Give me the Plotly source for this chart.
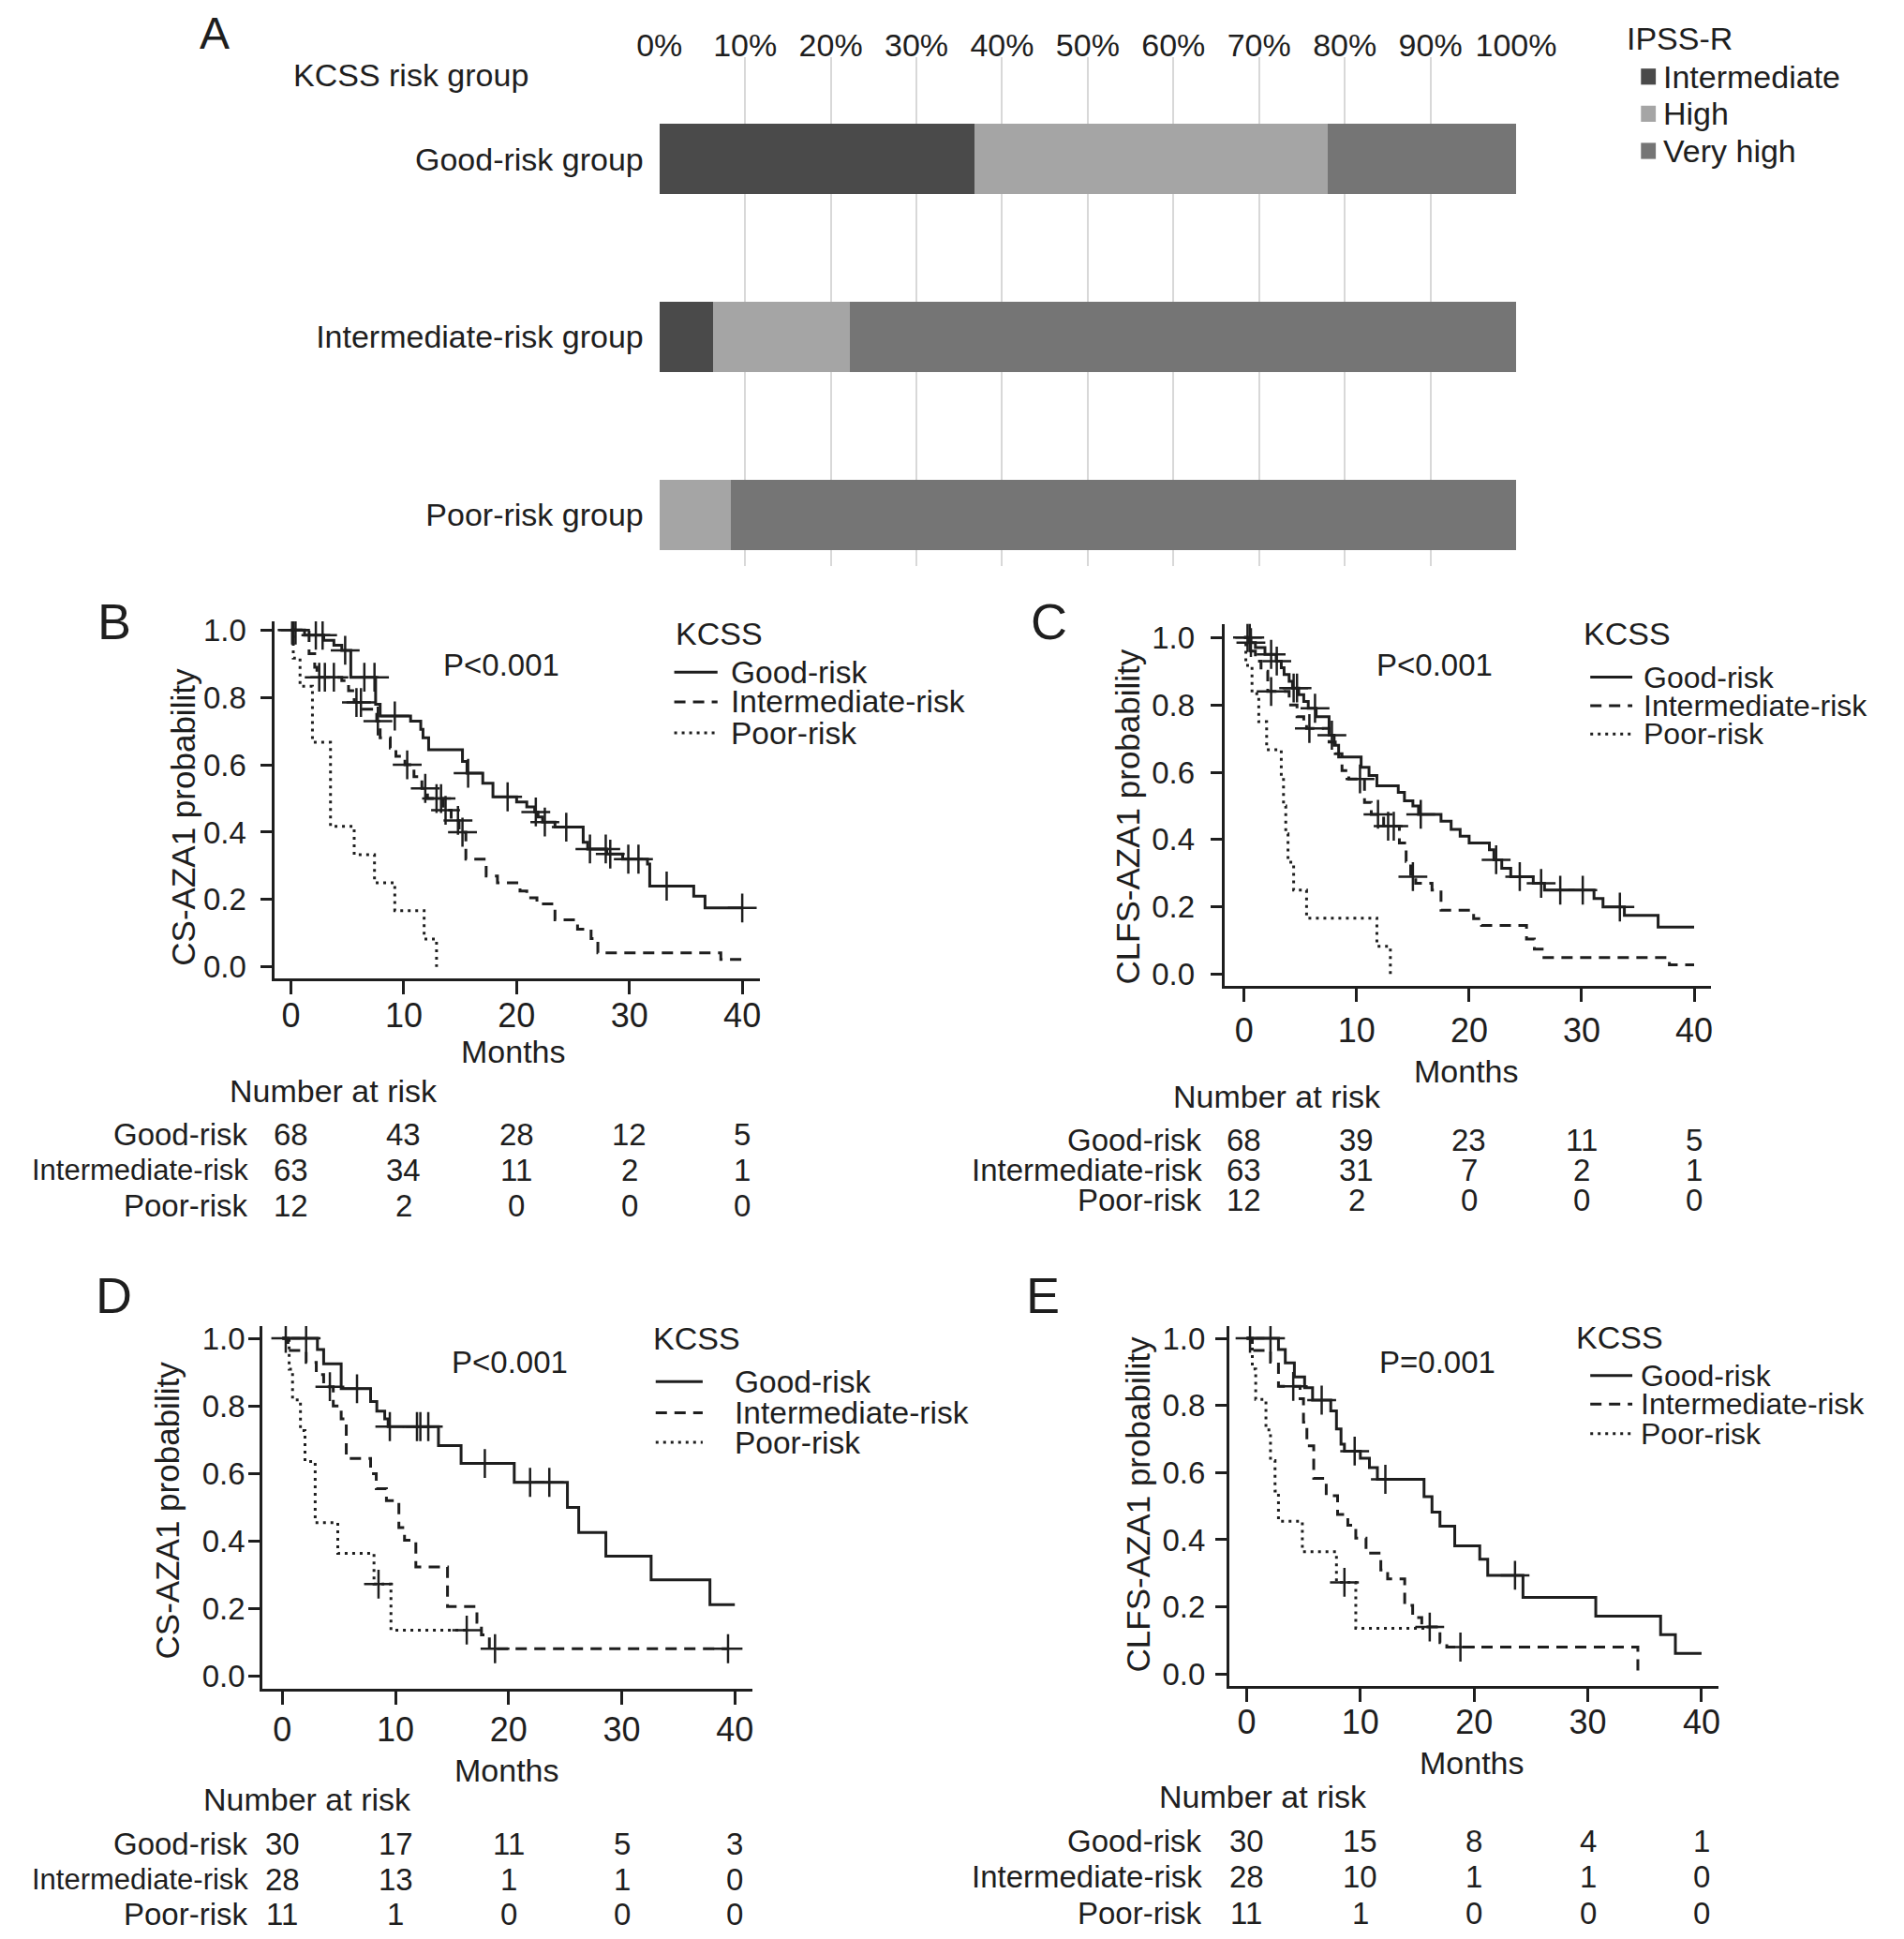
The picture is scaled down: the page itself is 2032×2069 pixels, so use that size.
import plotly.graph_objects as go

W, H = 2032, 2069
INK = "#1e1e1e"
FONT = "Liberation Sans, Arial, sans-serif"

# ---------------- panel A: IPSS-R share per KCSS group (%)
kcss_groups = ["Good-risk group", "Intermediate-risk group", "Poor-risk group"]
ipss_labels = ["Intermediate", "High", "Very high"]
ipss_intermediate = [36.8, 6.3, 0.0]
ipss_high = [41.2, 15.9, 8.3]
ipss_very_high = [22.0, 77.8, 91.7]
ipss_colors = ["#4a4a4a", "#a5a5a5", "#757575"]
pct_ticks = [0, 10, 20, 30, 40, 50, 60, 70, 80, 90, 100]

# ---------------- KM curves (step times / survival), censor times
risk_groups = ["Good-risk", "Intermediate-risk", "Poor-risk"]
month_ticks = [0, 10, 20, 30, 40]

# B: CS-AZA1, all patients
b_good_t = [0, 1.2, 2.9, 3.8, 4.5, 5.3, 7.5, 7.9, 10.6, 11.5, 11.7, 12.2, 15.2, 15.6, 17.0, 17.9, 20.0, 20.9,
            21.6, 21.9, 22.3, 23.4, 25.9, 26.3, 28.0, 29.4, 31.6, 31.8, 35.7, 36.7, 40.0]
b_good_s = [1.0, 0.985, 0.97, 0.955, 0.94, 0.86, 0.78, 0.745, 0.73, 0.705, 0.68, 0.645, 0.61, 0.575, 0.545, 0.505,
            0.49, 0.475, 0.46, 0.445, 0.43, 0.415, 0.37, 0.35, 0.335, 0.32, 0.305, 0.24, 0.21, 0.175, 0.175]
b_good_c = [0.1, 0.4, 2.2, 2.8, 4.8, 6.5, 7.4, 9.2, 15.7, 19.2, 21.7, 22.5, 24.4, 26.5, 27.9, 28.3, 29.9, 30.8,
            33.3, 40.0]
b_int_t = [0, 1.6, 2.1, 2.3, 4.5, 5.1, 5.6, 6.4, 7.6, 7.9, 8.8, 9.3, 10.1, 10.9, 11.6, 12.1, 13.5, 14.2, 14.9,
           15.5, 17.3, 18.3, 20.3, 20.9, 21.8, 23.4, 25.4, 26.6, 27.2, 38.1, 40.0]
b_int_s = [1.0, 0.93, 0.89, 0.86, 0.85, 0.82, 0.785, 0.765, 0.73, 0.68, 0.65, 0.625, 0.60, 0.565, 0.53, 0.50,
           0.465, 0.435, 0.40, 0.32, 0.27, 0.25, 0.225, 0.205, 0.187, 0.14, 0.112, 0.084, 0.042, 0.022, 0.022]
b_int_c = [0.2, 2.5, 3.0, 3.8, 5.8, 6.2, 7.7, 10.3, 11.9, 12.9, 13.3, 13.7, 14.8, 15.2]
b_poor_t = [0, 0.2, 0.8, 1.9, 3.5, 5.6, 7.4, 9.2, 11.8, 12.9]
b_poor_s = [1.0, 0.917, 0.833, 0.667, 0.417, 0.333, 0.25, 0.167, 0.083, 0.0]
b_poor_c = []

# C: CLFS-AZA1, all patients
c_good_t = [0, 0.4, 1.0, 1.85, 2.85, 3.3, 3.55, 4.0, 4.3, 4.85, 5.3, 5.7, 6.4, 7.55, 8.0, 8.4, 10.4, 11.1, 11.8,
            13.7, 14.25, 15.0, 15.5, 17.5, 18.4, 19.2, 20.0, 21.8, 22.2, 22.9, 23.7, 25.7, 26.7, 31.1, 31.9, 33.8,
            36.8, 40.0]
c_good_s = [1.0, 0.985, 0.97, 0.95, 0.93, 0.91, 0.89, 0.87, 0.85, 0.83, 0.81, 0.79, 0.765, 0.71, 0.68, 0.645,
            0.615, 0.59, 0.56, 0.54, 0.515, 0.50, 0.475, 0.455, 0.43, 0.41, 0.39, 0.37, 0.34, 0.315, 0.29, 0.27,
            0.25, 0.225, 0.20, 0.175, 0.14, 0.14]
c_good_c = [0.3, 0.6, 2.4, 2.9, 4.4, 4.7, 6.3, 7.8, 15.7, 22.4, 24.5, 26.4, 28.1, 30.1, 33.4]
c_int_t = [0, 0.6, 1.0, 1.5, 2.1, 4.0, 4.7, 5.3, 5.55, 7.55, 8.1, 8.7, 9.3, 10.7, 11.3, 12.4, 13.8, 14.4, 14.8,
           15.25, 16.7, 17.5, 20.4, 21.1, 25.1, 25.8, 26.65, 37.8, 40.0]
c_int_s = [1.0, 0.96, 0.93, 0.90, 0.84, 0.80, 0.765, 0.745, 0.73, 0.69, 0.655, 0.605, 0.58, 0.51, 0.475, 0.44,
           0.39, 0.335, 0.29, 0.27, 0.25, 0.19, 0.165, 0.145, 0.105, 0.075, 0.05, 0.028, 0.028]
c_int_c = [0.5, 2.4, 5.8, 10.3, 11.9, 12.8, 13.3, 15.0]
c_poor_t = [0, 0.15, 0.7, 1.3, 2.0, 3.3, 3.5, 3.7, 3.9, 4.4, 5.55, 11.8, 13.0]
c_poor_s = [1.0, 0.917, 0.833, 0.75, 0.667, 0.583, 0.5, 0.417, 0.333, 0.25, 0.167, 0.083, 0.0]
c_poor_c = []

# D: CS-AZA1, subgroup
d_good_t = [0, 3.1, 3.65, 5.2, 7.8, 8.35, 9.05, 9.35, 13.8, 15.8, 20.5, 25.2, 26.2, 28.6, 32.6, 37.8, 40.0]
d_good_s = [1.0, 0.967, 0.925, 0.851, 0.813, 0.785, 0.762, 0.739, 0.683, 0.63, 0.574, 0.50, 0.426, 0.356, 0.286,
            0.212, 0.212]
d_good_c = [0.3, 2.1, 6.6, 9.5, 11.9, 12.2, 12.9, 17.9, 21.9, 23.6]
d_int_t = [0, 0.5, 2.1, 3.0, 3.65, 4.5, 5.2, 5.65, 7.8, 8.3, 9.2, 10.3, 10.8, 11.8, 14.6, 17.2, 17.6, 18.3, 39.4]
d_int_s = [1.0, 0.964, 0.929, 0.893, 0.857, 0.80, 0.762, 0.645, 0.60, 0.555, 0.52, 0.44, 0.403, 0.324, 0.207,
           0.16, 0.123, 0.082, 0.082]
d_int_c = [4.2, 18.8, 39.4]
d_poor_t = [0, 0.6, 0.9, 1.6, 2.0, 2.9, 4.9, 8.1, 9.6, 16.5]
d_poor_s = [1.0, 0.909, 0.818, 0.727, 0.636, 0.455, 0.364, 0.273, 0.137, 0.137]
d_poor_c = [8.5, 16.3]

# E: CLFS-AZA1, subgroup
e_good_t = [0, 2.8, 3.4, 4.2, 5.1, 5.8, 7.4, 7.9, 8.3, 8.6, 10.0, 10.8, 11.5, 15.6, 16.3, 17.0, 18.3, 20.5, 21.2,
            24.3, 30.7, 36.4, 37.7, 40.0]
e_good_s = [1.0, 0.967, 0.927, 0.885, 0.853, 0.816, 0.784, 0.73, 0.685, 0.664, 0.643, 0.615, 0.58, 0.528, 0.482,
            0.44, 0.382, 0.342, 0.294, 0.228, 0.172, 0.117, 0.061, 0.061]
e_good_c = [0.3, 2.1, 6.6, 9.5, 12.2, 23.6]
e_int_t = [0, 0.5, 2.1, 2.8, 4.7, 5.0, 5.3, 5.9, 7.0, 8.0, 8.9, 9.6, 10.5, 11.8, 12.4, 13.9, 14.6, 15.4, 17.0,
           17.6, 34.4]
e_int_s = [1.0, 0.964, 0.929, 0.857, 0.82, 0.75, 0.68, 0.583, 0.531, 0.475, 0.443, 0.405, 0.36, 0.31, 0.283,
           0.204, 0.168, 0.14, 0.093, 0.08, 0.0]
e_int_c = [4.1, 16.1, 18.8]
e_poor_t = [0, 0.5, 0.8, 1.7, 2.1, 2.5, 2.8, 4.9, 7.9, 9.6, 16.1]
e_poor_s = [1.0, 0.909, 0.818, 0.727, 0.636, 0.545, 0.455, 0.364, 0.273, 0.136, 0.136]
e_poor_c = [8.6]

# number at risk at 0/10/20/30/40 months
b_risk = [[68, 43, 28, 12, 5], [63, 34, 11, 2, 1], [12, 2, 0, 0, 0]]
c_risk = [[68, 39, 23, 11, 5], [63, 31, 7, 2, 1], [12, 2, 0, 0, 0]]
d_risk = [[30, 17, 11, 5, 3], [28, 13, 1, 1, 0], [11, 1, 0, 0, 0]]
e_risk = [[30, 15, 8, 4, 1], [28, 10, 1, 1, 0], [11, 1, 0, 0, 0]]


# placement is measured on the reference at a 1536-wide view; map it to page pixels
def fx(d):
    return (d - 24.6) / 0.7326


def fy(d):
    return (d - 13.0) / 0.751


def px(d):
    return fx(d) / W


def py(d):
    return 1 - fy(d) / H


def surv_at(ts, ss, x):
    val = ss[0]
    for t, s in zip(ts, ss):
        if t <= x:
            val = s
    return val


DASHES = ["solid", "12px,8px", "3px,5px"]

panels = [
    dict(key="B", xa="x2", ya="y2", ytitle="CS-AZA1 probability", p="P<0.001",
         curves=[(b_good_t, b_good_s, b_good_c), (b_int_t, b_int_s, b_int_c), (b_poor_t, b_poor_s, b_poor_c)],
         risk=b_risk, x0=235, x40=600, y1=509, y0=781, dx=(222, 614), dy=(502, 790),
         letter=(92, 502), yt=(148, 660), pv=(405, 537), leg=(545, 512, 545, 580, 590, [543, 567, 592]),
         months=(415, 849), nar=(269.5, 881), rows=[916, 945, 974], lab=201, labsz=[33, 31, 33], legsz=33.5,
         ystd=9, xstd=-8),
    dict(key="C", xa="x3", ya="y3", ytitle="CLFS-AZA1 probability", p="P<0.001",
         curves=[(c_good_t, c_good_s, c_good_c), (c_int_t, c_int_s, c_int_c), (c_poor_t, c_poor_s, c_poor_c)],
         risk=c_risk, x0=1006, x40=1370, y1=515, y0=787, dx=(990, 1384), dy=(504, 796.5),
         letter=(848, 502), yt=(912, 660), pv=(1160, 537), leg=(1280, 512, 1286, 1320, 1328, [547, 570, 593]),
         months=(1186, 865), nar=(1033, 886), rows=[921, 945, 969], lab=973, labsz=[33, 33, 33], legsz=32,
         ystd=10, xstd=0),
    dict(key="D", xa="x4", ya="y4", ytitle="CS-AZA1 probability", p="P<0.001",
         curves=[(d_good_t, d_good_s, d_good_c), (d_int_t, d_int_s, d_int_c), (d_poor_t, d_poor_s, d_poor_c)],
         risk=d_risk, x0=228, x40=594, y1=1081, y0=1354, dx=(212, 608), dy=(1071, 1364),
         letter=(92, 1046), yt=(135, 1220), pv=(412, 1100), leg=(527, 1081, 530, 568, 593, [1116, 1141, 1165]),
         months=(410, 1430), nar=(248.5, 1453), rows=[1489, 1518, 1546], lab=201, labsz=[33, 31, 33], legsz=33.5,
         ystd=-3, xstd=-4),
    dict(key="E", xa="x5", ya="y5", ytitle="CLFS-AZA1 probability", p="P=0.001",
         curves=[(e_good_t, e_good_s, e_good_c), (e_int_t, e_int_s, e_int_c), (e_poor_t, e_poor_s, e_poor_c)],
         risk=e_risk, x0=1008, x40=1376, y1=1081, y0=1352, dx=(994, 1390), dy=(1071, 1362),
         letter=(843, 1046), yt=(920, 1215), pv=(1162, 1100), leg=(1274, 1080, 1286, 1320, 1326, [1111, 1134, 1158]),
         months=(1190, 1424), nar=(1021.5, 1451), rows=[1487, 1516, 1545], lab=973, labsz=[33, 33, 33], legsz=32,
         ystd=4, xstd=-10),
]

fig = go.Figure()

# ---- panel A bars
for lab, vals, col in zip(ipss_labels, [ipss_intermediate, ipss_high, ipss_very_high], ipss_colors):
    fig.add_trace(go.Bar(y=kcss_groups, x=vals, orientation="h", marker=dict(color=col, line=dict(width=0)),
                         width=0.397, name=lab, xaxis="x", yaxis="y", showlegend=False))

annotations = []
shapes = []

annotations.append(dict(text="A", x=px(173), y=1 + 9.0 / H, yanchor="top", font=dict(size=48)))
annotations.append(dict(text="KCSS risk group", x=px(236), y=py(61), xanchor="left", font=dict(size=34)))
annotations.append(dict(text="IPSS-R", x=px(1315), y=py(31), xanchor="left", font=dict(size=34)))
for i, (lab, col) in enumerate(zip(ipss_labels, ipss_colors)):
    yy = [62, 92, 122][i]
    shapes.append(dict(type="rect", xref="paper", yref="paper", x0=px(1327), x1=px(1339),
                       y0=py(yy + 6.5), y1=py(yy - 6.5), fillcolor=col, line=dict(width=0)))
    annotations.append(dict(text=lab, x=px(1344), y=py(yy), xanchor="left", font=dict(size=34)))

# ---- KM panels
for pn in panels:
    for gi, (ts, ss, cs) in enumerate(pn["curves"]):
        fig.add_trace(go.Scatter(x=ts, y=ss, mode="lines", xaxis=pn["xa"], yaxis=pn["ya"], showlegend=False,
                                 line=dict(shape="hv", color=INK, width=3, dash=DASHES[gi]),
                                 name=risk_groups[gi]))
        if cs:
            fig.add_trace(go.Scatter(x=cs, y=[surv_at(ts, ss, c) for c in cs], mode="markers",
                                     xaxis=pn["xa"], yaxis=pn["ya"], showlegend=False,
                                     marker=dict(symbol="cross-thin", size=22, color=INK,
                                                 line=dict(width=2.5, color=INK))))
    xref = pn["xa"]
    annotations.append(dict(text=pn["key"], x=px(pn["letter"][0]), y=py(pn["letter"][1]), font=dict(size=54)))
    annotations.append(dict(text=pn["ytitle"], x=px(pn["yt"][0]), y=py(pn["yt"][1]), textangle=-90,
                            font=dict(size=35)))
    annotations.append(dict(text=pn["p"], x=px(pn["pv"][0]), y=py(pn["pv"][1]), font=dict(size=33)))
    lx, ly, s0, s1, tx, iy = pn["leg"]
    annotations.append(dict(text="KCSS", x=px(lx), y=py(ly), xanchor="left", font=dict(size=34)))
    for gi, g in enumerate(risk_groups):
        shapes.append(dict(type="line", xref="paper", yref="paper", x0=px(s0), x1=px(s1), y0=py(iy[gi]),
                           y1=py(iy[gi]), line=dict(color=INK, width=3, dash=DASHES[gi])))
        annotations.append(dict(text=g, x=px(tx), y=py(iy[gi]), xanchor="left", font=dict(size=pn["legsz"])))
    annotations.append(dict(text="Months", x=px(pn["months"][0]), y=py(pn["months"][1]), font=dict(size=34)))
    annotations.append(dict(text="Number at risk", x=px(pn["nar"][0]), y=py(pn["nar"][1]), font=dict(size=34)))
    for gi, g in enumerate(risk_groups):
        ry = py(pn["rows"][gi])
        annotations.append(dict(text=g, x=px(pn["lab"]), y=ry, xanchor="right",
                                font=dict(size=pn["labsz"][gi])))
        for m, n in zip(month_ticks, pn["risk"][gi]):
            annotations.append(dict(text=str(n), x=m, xref=xref, y=ry, yref="paper", font=dict(size=33)))

for a in annotations:
    a.setdefault("xref", "paper")
    a.setdefault("yref", "paper")
    a.setdefault("showarrow", False)
    a.setdefault("xanchor", "center")
    a.setdefault("yanchor", "middle")
    a.setdefault("borderpad", 0)

# panel A axes (categories: 0 = poor, 2 = good, centres at 416 / 271.5 / 128.5)
a_top, a_bot = 46, 457
a_step = (416 - 128.5) / 2.0
layout = dict(
    width=W, height=H, margin=dict(l=0, r=0, t=0, b=0),
    paper_bgcolor="white", plot_bgcolor="white",
    font=dict(family=FONT, color=INK, size=30),
    showlegend=False, barmode="stack",
    annotations=annotations, shapes=shapes,
    xaxis=dict(domain=[px(533), px(1226)], range=[0, 100], side="top", tickvals=pct_ticks,
               ticktext=["%d%%" % v for v in pct_ticks],
               showgrid=True, gridcolor="#d8d8d8", gridwidth=1.5, zeroline=False, showline=False,
               ticks="", tickfont=dict(size=34), ticklabelstandoff=-7, anchor="y"),
    yaxis=dict(domain=[py(a_bot), py(a_top)], range=[-(a_bot - 416) / a_step, 2 + (128.5 - a_top) / a_step],
               categoryorder="array", categoryarray=list(reversed(kcss_groups)), showgrid=False,
               zeroline=False, showline=False, ticks="", tickfont=dict(size=34), ticklabelstandoff=16,
               anchor="x"),
)

for i, pn in enumerate(panels):
    n = i + 2
    sx = (pn["x40"] - pn["x0"]) / 40.0
    xr = [(pn["dx"][0] - pn["x0"]) / sx, (pn["dx"][1] - pn["x0"]) / sx]
    sy = pn["y0"] - pn["y1"]
    yr = [-(pn["dy"][1] - pn["y0"]) / sy, (pn["y0"] - pn["dy"][0]) / sy]
    layout["xaxis%d" % n] = dict(domain=[px(pn["dx"][0]), px(pn["dx"][1])], range=xr, anchor="y%d" % n,
                                 tickvals=month_ticks, showgrid=False, zeroline=False, showline=True,
                                 linecolor=INK, linewidth=3, ticks="outside", ticklen=14, tickwidth=2.5,
                                 tickcolor=INK, tickfont=dict(size=36), ticklabelstandoff=pn["xstd"])
    layout["yaxis%d" % n] = dict(domain=[py(pn["dy"][1]), py(pn["dy"][0])], range=yr, anchor="x%d" % n,
                                 tickvals=[0, 0.2, 0.4, 0.6, 0.8, 1.0], tickformat=".1f", showgrid=False,
                                 zeroline=False, showline=True, linecolor=INK, linewidth=3, ticks="outside",
                                 ticklen=12, tickwidth=2.5, tickcolor=INK, tickfont=dict(size=33),
                                 ticklabelstandoff=pn["ystd"])

fig.update_layout(**layout)
fig.write_html("out.html")
